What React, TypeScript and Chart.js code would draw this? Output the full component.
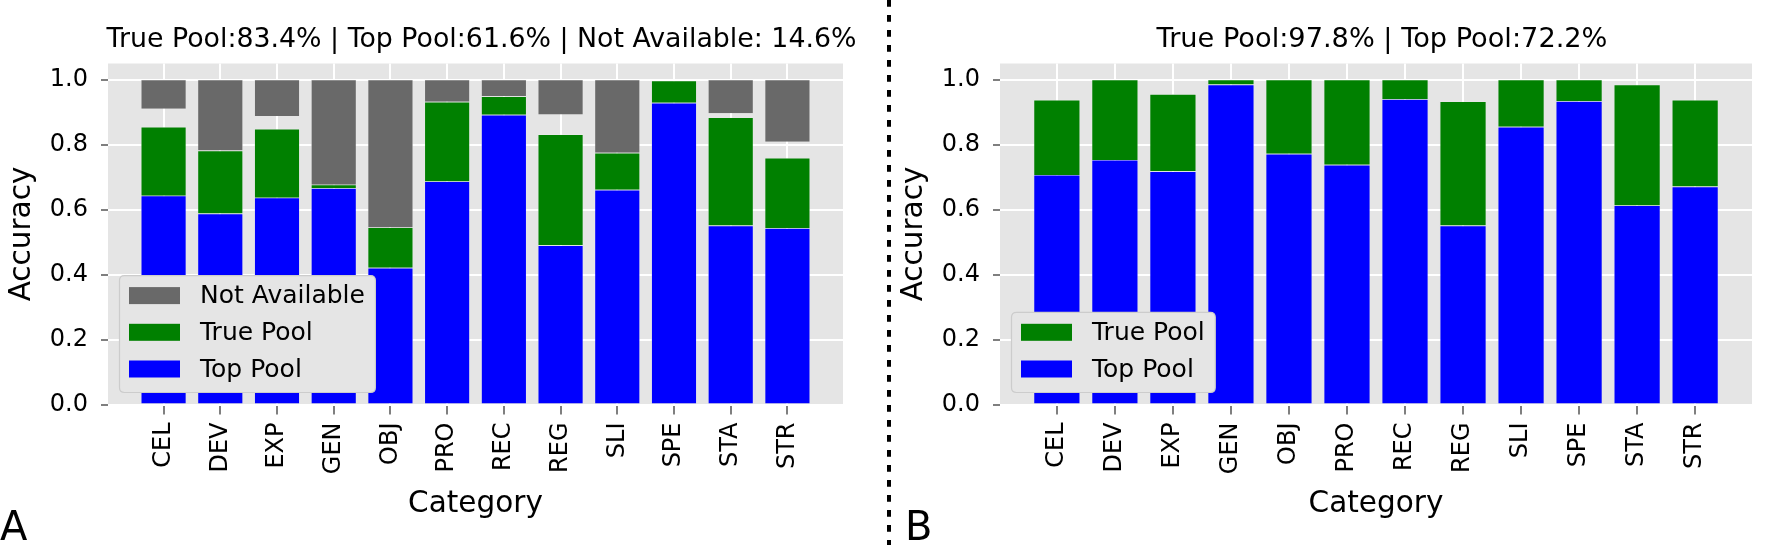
import React, { useEffect, useRef } from "react";
import { Chart, registerables } from "chart.js";

Chart.register(...registerables);

const categories = ["CEL", "DEV", "EXP", "GEN", "OBJ", "PRO", "REC", "REG", "SLI", "SPE", "STA", "STR"];

// Panel A
const topPoolA = [0.643, 0.588, 0.637, 0.666, 0.421, 0.687, 0.892, 0.49, 0.661, 0.929, 0.551, 0.543];
const truePoolA = [0.855, 0.782, 0.849, 0.677, 0.545, 0.932, 0.949, 0.832, 0.775, 0.997, 0.884, 0.759];
const notAvailableA = [0.089, 0.218, 0.112, 0.323, 0.455, 0.068, 0.051, 0.107, 0.225, 0, 0.103, 0.191];
const titleA = "True Pool:83.4% | Top Pool:61.6% | Not Available: 14.6%";

// Panel B
const topPoolB = [0.707, 0.753, 0.718, 0.985, 0.772, 0.738, 0.94, 0.551, 0.855, 0.934, 0.613, 0.671];
const truePoolB = [0.938, 1.0, 0.956, 1.0, 1.0, 1.0, 1.0, 0.933, 1.0, 1.0, 0.985, 0.938];
const titleB = "True Pool:97.8% | Top Pool:72.2%";

const yTicks = [0, 0.2, 0.4, 0.6, 0.8, 1.0];

const FONT = "'DejaVu Sans', sans-serif";
const BLUE = "#0000ff";
const GREEN = "#008000";
const GRAY = "#696969";
const EDGE = "rgba(238,238,238,0.7)";

function makeConfig(opts: any) {
  const { datasets, title, titleSize, letter, legendOrder, padRight, dotted } = opts;
  const overlay = {
    id: "overlay" + letter,
    beforeDraw(chart: any) {
      const { ctx, chartArea } = chart;
      ctx.save();
      ctx.fillStyle = "#e5e5e5";
      ctx.fillRect(chartArea.left, chartArea.top, chartArea.right - chartArea.left, chartArea.bottom - chartArea.top);
      ctx.restore();
    },
    afterDraw(chart: any) {
      const { ctx, chartArea } = chart;
      const cx = (chartArea.left + chartArea.right) / 2;
      const cy = (chartArea.top + chartArea.bottom) / 2;
      ctx.save();
      ctx.fillStyle = "#000";
      // title
      ctx.font = titleSize + "px " + FONT;
      ctx.textAlign = "center";
      ctx.textBaseline = "alphabetic";
      ctx.fillText(title, cx + 6, 47);
      // x title
      ctx.font = "29.5px " + FONT;
      ctx.fillText("Category", cx, 512);
      // y title
      ctx.save();
      ctx.translate(30, cy);
      ctx.rotate(-Math.PI / 2);
      ctx.fillText("Accuracy", 0, 0);
      ctx.restore();
      // letter
      ctx.font = "40px " + FONT;
      ctx.textAlign = "left";
      ctx.fillText(letter, letter === "A" ? 0 : 13, 540);

      // legend
      ctx.font = "25px " + FONT;
      const items = legendOrder.map((i: number) => chart.data.datasets[i]);
      let maxW = 0;
      items.forEach((d: any) => {
        maxW = Math.max(maxW, ctx.measureText(d.label).width);
      });
      const n = items.length;
      const bw = 80 + maxW + 11;
      const bh = 20 + (n - 1) * 36.7 + 23.5;
      const bx = chartArea.left + 11.5;
      const by = chartArea.bottom - 12 - bh;
      const r = 5;
      ctx.beginPath();
      ctx.moveTo(bx + r, by);
      ctx.lineTo(bx + bw - r, by);
      ctx.quadraticCurveTo(bx + bw, by, bx + bw, by + r);
      ctx.lineTo(bx + bw, by + bh - r);
      ctx.quadraticCurveTo(bx + bw, by + bh, bx + bw - r, by + bh);
      ctx.lineTo(bx + r, by + bh);
      ctx.quadraticCurveTo(bx, by + bh, bx, by + bh - r);
      ctx.lineTo(bx, by + r);
      ctx.quadraticCurveTo(bx, by, bx + r, by);
      ctx.closePath();
      ctx.fillStyle = "#e5e5e5";
      ctx.fill();
      ctx.strokeStyle = "#cccccc";
      ctx.lineWidth = 1.2;
      ctx.stroke();
      items.forEach((d: any, k: number) => {
        const rowY = by + 20 + k * 36.7;
        ctx.fillStyle = d.backgroundColor;
        ctx.fillRect(bx + 9.5, rowY - 8.5, 51, 17);
        ctx.fillStyle = "#000";
        ctx.textBaseline = "middle";
        ctx.fillText(d.label, bx + 80.5, rowY + 1);
      });

      if (dotted) {
        ctx.beginPath();
        ctx.setLineDash([6.7, 8.3]);
        ctx.lineWidth = 4;
        ctx.strokeStyle = "#000";
        ctx.moveTo(889, 0);
        ctx.lineTo(889, 545);
        ctx.stroke();
      }
      ctx.restore();
    },
  };

  const tickFont = { family: FONT, size: 24 };
  return {
    type: "bar",
    data: { datasets },
    options: {
      responsive: false,
      animation: false,
      devicePixelRatio: 1,
      layout: { padding: { left: 0, right: padRight, top: 63.5, bottom: 0 } },
      plugins: { legend: { display: false }, tooltip: { enabled: false }, title: { display: false } },
      scales: {
        x: {
          type: "linear",
          min: -0.98,
          max: 11.98,
          offset: false,
          afterBuildTicks: (s: any) => {
            s.ticks = categories.map((_, i) => ({ value: i }));
          },
          afterFit: (s: any) => {
            s.height = 140.5;
          },
          ticks: {
            callback: (v: any) => categories[Math.round(v)],
            minRotation: 90,
            maxRotation: 90,
            autoSkip: false,
            font: tickFont,
            color: "#000",
            padding: 8,
          },
          grid: { color: "#ffffff", lineWidth: 2, tickColor: "#555555", tickLength: 10, tickWidth: 1.5, offset: false },
          border: { display: false },
        },
        y: {
          type: "linear",
          min: 0,
          max: 1.05,
          afterBuildTicks: (s: any) => {
            s.ticks = yTicks.map((v) => ({ value: v }));
          },
          afterFit: (s: any) => {
            s.width = 108;
          },
          ticks: {
            callback: (v: any) => Number(v).toFixed(1),
            font: tickFont,
            color: "#000",
            padding: 13,
          },
          grid: { color: "#ffffff", lineWidth: 2, tickColor: "#555555", tickLength: 7, tickWidth: 1.5 },
          border: { display: false },
        },
      },
    },
    plugins: [overlay],
  };
}

function barDs(label: string, color: string, ranges: (number[] | null)[]) {
  return {
    label,
    backgroundColor: color,
    borderColor: EDGE,
    borderWidth: 0.6,
    grouped: false,
    barPercentage: 0.8,
    categoryPercentage: 1,
    data: ranges.map((r, i) => ({ x: i, y: r })),
  };
}

export default function App() {
  const refA = useRef<HTMLCanvasElement>(null);
  const refB = useRef<HTMLCanvasElement>(null);

  useEffect(() => {
    const dsA = [
      barDs("Top Pool", BLUE, topPoolA.map((t) => [0, t])),
      barDs("True Pool", GREEN, truePoolA.map((t, i) => [topPoolA[i], t])),
      barDs("Not Available", GRAY, notAvailableA.map((na) => (na > 0 ? [1 - na, 1] : null))),
    ];
    const dsB = [
      barDs("Top Pool", BLUE, topPoolB.map((t) => [0, t])),
      barDs("True Pool", GREEN, truePoolB.map((t, i) => [topPoolB[i], t])),
    ];
    const a = new Chart(
      refA.current as any,
      makeConfig({ datasets: dsA, title: titleA, titleSize: 26.8, letter: "A", legendOrder: [2, 1, 0], padRight: 49, dotted: true }) as any
    );
    const b = new Chart(
      refB.current as any,
      makeConfig({ datasets: dsB, title: titleB, titleSize: 27.2, letter: "B", legendOrder: [1, 0], padRight: 21, dotted: false }) as any
    );
    return () => {
      a.destroy();
      b.destroy();
    };
  }, []);

  return (
    <div style={{ position: "absolute", left: 0, top: 0, width: 1773, height: 545, background: "#fff", overflow: "hidden" }}>
      <canvas ref={refA} width={892} height={545} style={{ position: "absolute", left: 0, top: 0, width: 892, height: 545 }} />
      <canvas ref={refB} width={881} height={545} style={{ position: "absolute", left: 892, top: 0, width: 881, height: 545 }} />
    </div>
  );
}
